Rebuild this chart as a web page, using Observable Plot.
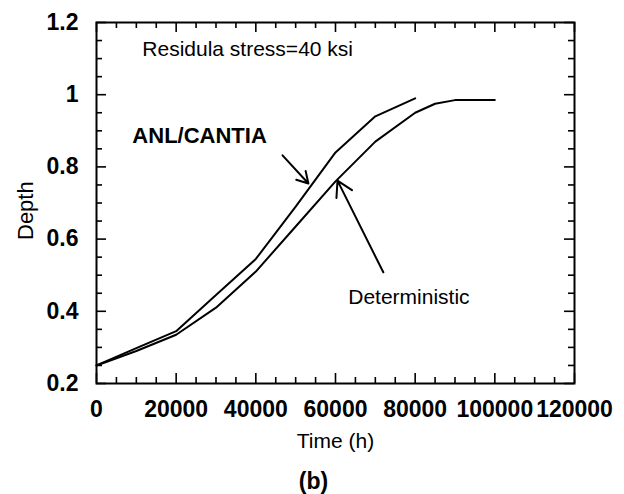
<!DOCTYPE html>
<html>
<head>
<meta charset="utf-8">
<script src="https://cdn.jsdelivr.net/npm/d3@7"></script>
<script src="https://cdn.jsdelivr.net/npm/@observablehq/plot@0.6"></script>
<style>
  html, body { margin: 0; padding: 0; background: #fff; }
  #chart { width: 624px; height: 494px; }
</style>
</head>
<body>
<div id="chart"></div>
<script>
// ---- data ----
const anlTime  = [0, 10000, 20000, 30000, 40000, 50000, 60000, 70000, 80000];
const anlDepth = [0.25, 0.298, 0.345, 0.445, 0.545, 0.69, 0.84, 0.94, 0.99];

const detTime  = [0, 10000, 20000, 30000, 40000, 50000, 60000, 70000, 80000, 85000, 90000, 100000];
const detDepth = [0.25, 0.29, 0.335, 0.41, 0.51, 0.635, 0.76, 0.87, 0.95, 0.975, 0.985, 0.985];

const xTickValues = [0, 20000, 40000, 60000, 80000, 100000, 120000];
const yTickValues = [0.2, 0.4, 0.6, 0.8, 1, 1.2];
const xMinorValues = d3.range(0, 120001, 5000);
const yMinorValues = d3.range(0.2, 1.2001, 0.05).map(v => +v.toFixed(2));

const annotationTexts = ["Residula stress=40 ksi", "ANL/CANTIA", "Deterministic"];
const xLabel = "Time (h)";
const yLabel = "Depth";
const captionText = "(b)";

// ---- build tables ----
const anl = anlTime.map((t, i) => ({t, d: anlDepth[i]}));
const det = detTime.map((t, i) => ({t, d: detDepth[i]}));

// tick lengths in data units (frame is 478 px wide x 361 px tall)
const pxX = 120000 / 478, pxY = 1 / 361;
const majX = 10 * pxX, minX = 6 * pxX, majY = 10 * pxY, minY = 6 * pxY;
const isMajX = v => v % 20000 === 0;
const isMajY = v => Math.abs(v * 5 - Math.round(v * 5)) < 1e-6;

const font = "Liberation Sans, Arial, Helvetica, sans-serif";

const chart = Plot.plot({
  width: 624,
  height: 494,
  marginLeft: 96,
  marginRight: 50,
  marginTop: 22,
  marginBottom: 111,
  style: {fontFamily: font, background: "white", color: "black", fontSize: "21px"},
  x: {domain: [0, 120000], axis: null},
  y: {domain: [0.2, 1.2], axis: null},
  marks: [
    // tick labels
    Plot.axisX(xTickValues, {anchor: "bottom", tickSize: 0, tickPadding: 17, tickFormat: d => String(d), fontSize: 23, fontWeight: "bold", label: null}),
    Plot.axisY(yTickValues, {anchor: "left", tickSize: 0, tickPadding: 18, tickFormat: d => String(+(+d).toFixed(1)), fontSize: 23, fontWeight: "bold", label: null}),
    // inward ticks: bottom & top
    Plot.ruleX(xMinorValues, {x: d => d, y1: 0.2, y2: d => 0.2 + (isMajX(d) ? majY : minY), stroke: "black", strokeWidth: 1.6}),
    Plot.ruleX(xMinorValues, {x: d => d, y1: 1.2, y2: d => 1.2 - (isMajX(d) ? majY : minY), stroke: "black", strokeWidth: 1.6}),
    // inward ticks: left & right
    Plot.ruleY(yMinorValues, {y: d => d, x1: 0, x2: d => (isMajY(d) ? majX : minX), stroke: "black", strokeWidth: 1.6}),
    Plot.ruleY(yMinorValues, {y: d => d, x1: 120000, x2: d => 120000 - (isMajY(d) ? majX : minX), stroke: "black", strokeWidth: 1.6}),
    Plot.frame({stroke: "black", strokeWidth: 2}),
    // curves
    Plot.line(anl, {x: "t", y: "d", stroke: "black", strokeWidth: 2}),
    Plot.line(det, {x: "t", y: "d", stroke: "black", strokeWidth: 2}),
    // arrows
    Plot.arrow([{x1: 46700, y1: 0.832, x2: 53200, y2: 0.754}], {x1: "x1", y1: "y1", x2: "x2", y2: "y2", stroke: "black", strokeWidth: 2, headLength: 13}),
    Plot.arrow([{x1: 72000, y1: 0.508, x2: 60500, y2: 0.762}], {x1: "x1", y1: "y1", x2: "x2", y2: "y2", stroke: "black", strokeWidth: 2, headLength: 13}),
    // annotations
    Plot.text([annotationTexts[0]], {x: 11500, y: 1.127, text: d => d, textAnchor: "start", lineAnchor: "middle", fontSize: 21}),
    Plot.text([annotationTexts[1]], {x: 9000, y: 0.885, text: d => d, textAnchor: "start", lineAnchor: "middle", fontSize: 22, fontWeight: "bold"}),
    Plot.text([annotationTexts[2]], {x: 63200, y: 0.44, text: d => d, textAnchor: "start", lineAnchor: "middle", fontSize: 21}),
    // axis titles and caption
    Plot.text([xLabel], {frameAnchor: "bottom", dy: 64, lineAnchor: "bottom", text: d => d, fontSize: 21}),
    Plot.text([yLabel], {frameAnchor: "left", dx: -64, dy: 37, rotate: -90, lineAnchor: "bottom", text: d => d, fontSize: 22}),
    Plot.text([captionText], {frameAnchor: "bottom", dx: -22, dy: 105, lineAnchor: "bottom", text: d => d, fontSize: 23, fontWeight: "bold"})
  ]
});

document.getElementById("chart").append(chart);
</script>
</body>
</html>
